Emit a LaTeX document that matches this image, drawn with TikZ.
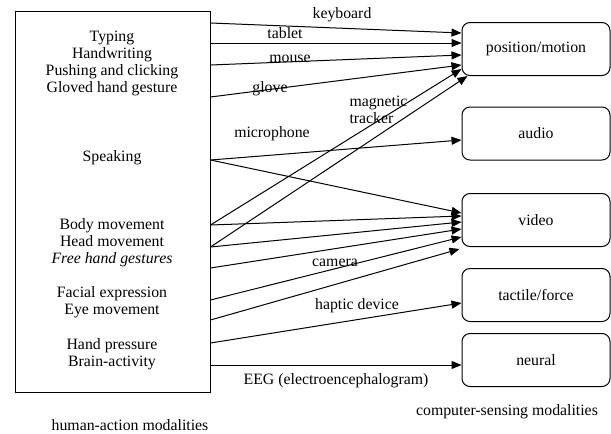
\documentclass[tikz,border=0pt]{standalone}
\usepackage{fontspec}
\setmainfont{Liberation Serif}
\usetikzlibrary{arrows.meta,positioning,calc}

\begin{document}
\begin{tikzpicture}[x=1pt,y=-1pt,>={Triangle[length=10pt,width=8pt]},
  every node/.style={font=\fontsize{15.8}{17}\selectfont}]
\tikzstyle{sense}=[draw,rounded corners=8pt,align=center,minimum width=148pt,minimum height=53pt,line width=1pt]
\tikzstyle{act}=[align=center,inner sep=0pt]
\tikzstyle{link}=[->,line width=1pt]
\useasboundingbox (0,0) rectangle (611,434);
% human side
\node[draw,line width=1pt,minimum width=195pt,minimum height=381pt] (hum) at (112.5,201.5) {};
\node[act] (hand) at (112,63) {Typing\\Handwriting\\Pushing and clicking\\Gloved hand gesture};
\node[act] (speak) at (112,158) {Speaking};
\node[act] (move) at (112,243) {Body movement\\Head movement\\\textit{Free hand gestures}};
\node[act] (face) at (112,302) {Facial expression\\Eye movement};
\node[act] (brain) at (112,354) {Hand pressure\\Brain-activity};
% computer side
\node[sense] (pos) at (536,49) {position/motion};
\node[sense] (audio) at (536,133.5) {audio};
\node[sense] (video) at (536,220) {video};
\node[sense] (tact) at (536,295) {tactile/force};
\node[sense] (neur) at (536,360) {neural};
\node (humlab) at (130,425) {human-action modalities};
\node (comlab) at (507,412) {computer-sensing modalities};
% start points on the box edge
\foreach \n/\y in {kb/23,tb/43,ms/65,gl/97,sp/160,bd/225,hd/247,fh/268,fe/300,em/320,hp/343,ba/365}
  \coordinate (\n) at (hum.east |- 0,\y);
% devices
\draw[link] (kb) -- (pos.west |- 0,33);
\draw[link] (tb) -- (pos.west |- 0,43);
\draw[link] (ms) -- (pos.west |- 0,55);
\draw[link] (gl) -- (pos.west |- 0,65);
\draw[link] (bd) -- (pos.west |- 0,69);
\draw[link] (hd) -- ($(pos.south west)+(6,0)$);
\draw[link] (sp) -- (audio.west |- 0,140);
\draw[link] (sp) -- (video.west |- 0,213);
\draw[link] (bd) -- (video.west |- 0,216);
\draw[link] (hd) -- (video.west |- 0,222);
\draw[link] (fh) -- (video.west |- 0,229);
\draw[link] (fe) -- (video.west |- 0,237);
\draw[link] (em) -- ($(video.south west)+(-2,2)$);
\draw[link] (hp) -- (tact.west |- 0,303);
\draw[link] (ba) -- (neur.west |- 0,365);
% device labels
\node (kblab) at (342,15) {keyboard};
\node (tblab) at (285,33) {tablet};
\node (mslab) at (290,59) {mouse};
\node (gllab) at (270,89) {glove};
\node[align=left,anchor=west] (mglab) at (346,110) {magnetic\\tracker};
\node (mclab) at (272,134) {microphone};
\node (camlab) at (335,263) {camera};
\node (haplab) at (357,306) {haptic device};
\node (eeglab) at (336,381) {EEG (electroencephalogram)};
\end{tikzpicture}
\end{document}
